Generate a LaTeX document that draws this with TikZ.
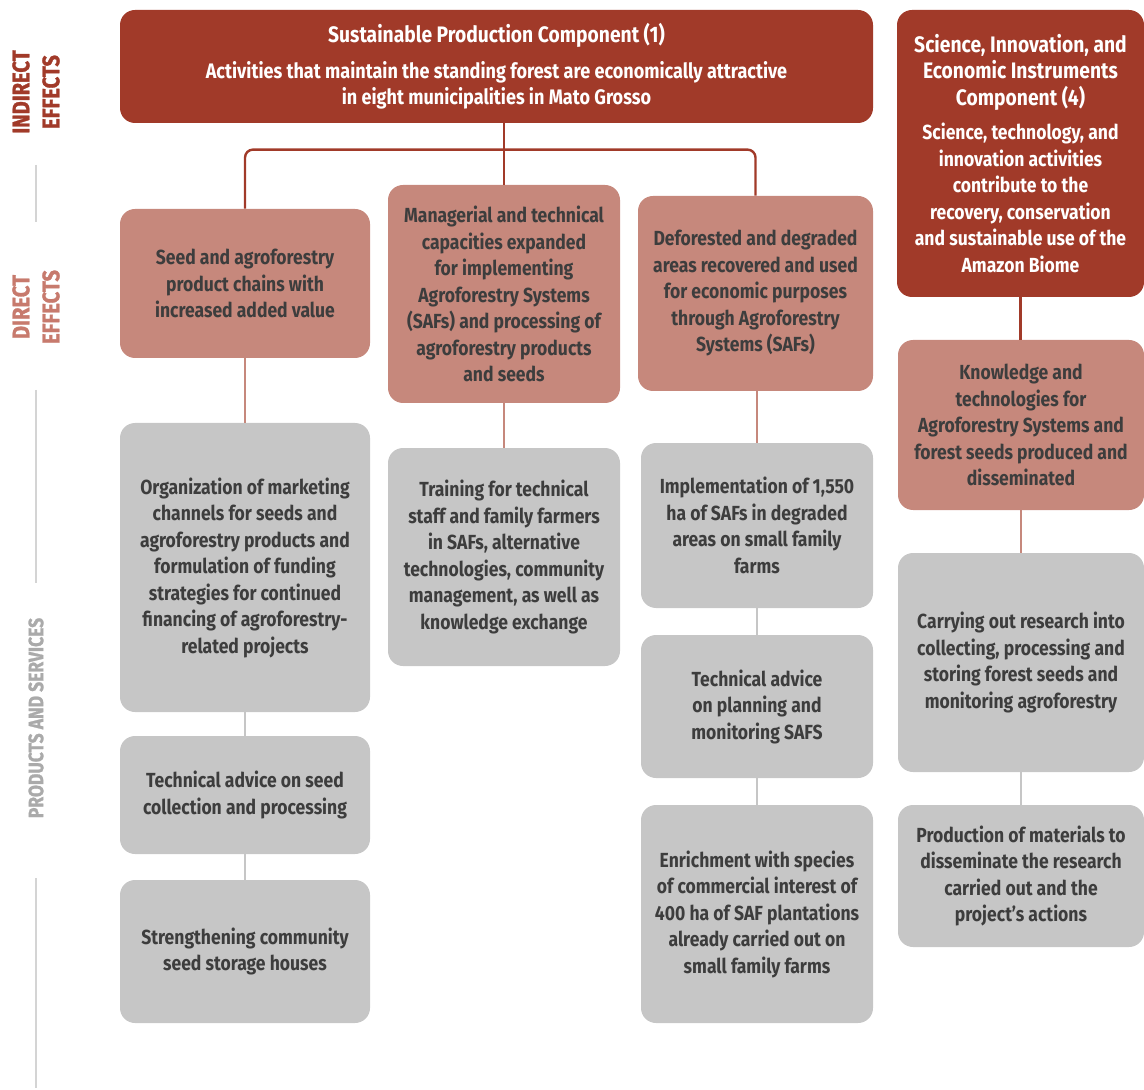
\documentclass[tikz,border=0pt]{standalone}
\usepackage{fontspec}
\setmainfont{Fira Sans}[FakeStretch=0.86]
\newfontfamily\lblfont{Fira Sans}[FakeStretch=0.84, BoldFeatures={FakeBold=1.2}]
\usetikzlibrary{positioning}
\definecolor{darkred}{HTML}{A13A29}
\definecolor{rosy}{HTML}{C6887C}
\definecolor{boxgray}{HTML}{C6C6C6}
\definecolor{txtgray}{HTML}{3D3D3D}
\definecolor{lblgray}{HTML}{AAAAAA}
\definecolor{lblrosy}{HTML}{C77A6D}
\definecolor{sepgray}{HTML}{D4D4D4}
\tikzset{
    comp/.style = {rectangle, rounded corners=7.5pt, fill=darkred, text=white, align=center, inner sep=0pt, font=\bfseries\fontsize{10.2}{13.25}\selectfont},
    direct/.style = {rectangle, rounded corners=7.5pt, fill=rosy, text=txtgray, align=center, inner sep=0pt, font=\bfseries\fontsize{10.2}{13.25}\selectfont},
    prod/.style = {rectangle, rounded corners=7.5pt, fill=boxgray, text=txtgray, align=center, inner sep=0pt, font=\bfseries\fontsize{10.2}{13.25}\selectfont},
    lbl/.style = {rotate=90, align=center, inner sep=0pt, font=\lblfont\bfseries\fontsize{12}{15}\selectfont},
    linkd/.style = {line width=1.2pt, draw=darkred},
    linkr/.style = {line width=1.2pt, draw=rosy},
    linkg/.style = {line width=1.2pt, draw=boxgray},
    sepline/.style = {line width=1.2pt, draw=sepgray},
}
\newcommand{\comptitle}[1]{{\fontsize{11.2}{13.25}\selectfont #1}}

\begin{document}
\begin{tikzpicture}[x=0.5pt, y=-0.5pt]
\useasboundingbox (0,0) rectangle (1144,1090);
%
% row labels
\node[lbl, text=darkred] at (36,92) (lind) {INDIRECT\\EFFECTS};
\node[lbl, text=lblrosy] at (36,307) (ldir) {DIRECT\\EFFECTS};
\node[lbl, text=lblgray, font=\lblfont\bfseries\fontsize{10.4}{15}\selectfont] at (36,718) (lprod) {PRODUCTS AND SERVICES};
\draw[sepline] (36,165) -- (36,222);
\draw[sepline] (36,390) -- (36,583);
\draw[sepline] (36,878) -- (36,1088);
%
% components
\node[comp, minimum width=376.5pt, minimum height=56.5pt] at (496.5,66.5) (c1)
    {\comptitle{Sustainable Production Component (1)}\\[4.5pt]
     {\fontsize{10.5}{13.25}\selectfont Activities that maintain the standing forest are economically attractive}\\
     {\fontsize{10.5}{13.25}\selectfont in eight municipalities in Mato Grosso}};
\node[comp, minimum width=123.5pt, minimum height=143.5pt] at (1020.5,153.5) (c4)
    {\comptitle{Science, Innovation, and}\\ \comptitle{Economic Instruments}\\ \comptitle{Component (4)}\\[4pt]
     Science, technology, and\\ innovation activities\\ contribute to the\\
     recovery, conservation\\ and sustainable use of the\\ Amazon Biome};
%
% direct effects
\node[direct, minimum width=125pt, minimum height=74.5pt] at (245,283.5) (d1)
    {Seed and agroforestry\\ product chains with\\ increased added value};
\node[direct, minimum width=116pt, minimum height=109pt] at (504,294) (d2)
    {Managerial and technical\\ capacities expanded\\ for implementing\\ Agroforestry Systems\\
     (SAFs) and processing of\\ agroforestry products\\ and seeds};
\node[direct, minimum width=117.5pt, minimum height=97.5pt] at (755.5,293.5) (d3)
    {Deforested and degraded\\ areas recovered and used\\ for economic purposes\\
     through Agroforestry\\ Systems (SAFs)};
\node[direct, minimum width=123pt, minimum height=85pt] at (1021,425) (d4)
    {Knowledge and\\ technologies for\\ Agroforestry Systems and\\ forest seeds produced and\\ disseminated};
%
% products and services
\node[prod, minimum width=125pt, minimum height=144.5pt] at (245,567.5) (p1a)
    {Organization of marketing\\ channels for seeds and\\ agroforestry products and\\
     formulation of funding\\ strategies for continued\\ financing of agroforestry-\\ related projects};
\node[prod, minimum width=125pt, minimum height=59pt] at (245,795) (p1b)
    {Technical advice on seed\\ collection and processing};
\node[prod, minimum width=125pt, minimum height=71.5pt] at (245,951.5) (p1c)
    {Strengthening community\\ seed storage houses};
\node[prod, minimum width=116pt, minimum height=109pt] at (504,557) (p2)
    {Training for technical\\ staff and family farmers\\ in SAFs, alternative\\
     technologies, community\\ management, as well as\\ knowledge exchange};
\node[prod, minimum width=116pt, minimum height=82.5pt] at (757,525.5) (p3a)
    {Implementation of 1,550\\ ha of SAFs in degraded\\ areas on small family\\ farms};
\node[prod, minimum width=116pt, minimum height=71.5pt] at (757,706.5) (p3b)
    {Technical advice\\ on planning and\\ monitoring SAFS};
\node[prod, minimum width=116pt, minimum height=109pt] at (757,914) (p3c)
    {Enrichment with species\\ of commercial interest of\\ 400 ha of SAF plantations\\
     already carried out on\\ small family farms};
\node[prod, minimum width=123pt, minimum height=109.5pt] at (1021,662.5) (p4a)
    {Carrying out research into\\ collecting, processing and\\ storing forest seeds and\\ monitoring agroforestry};
\node[prod, minimum width=123pt, minimum height=71pt] at (1021,876) (p4b)
    {Production of materials to\\ disseminate the research\\ carried out and the\\ project’s actions};
%
% connectors
\path (d2.north) ++(0,-35) coordinate (bar);
\draw[linkd] (d2.north) -- (d2.north |- c1.south);
\draw[linkd, rounded corners=4pt] (d1.north) |- (bar) -| (d3.north);
\draw[linkd] (c4.south) -- (c4.south |- d4.north);
\draw[linkr] (d1.south) -- (p1a.north);
\draw[linkr] (d2.south) -- (p2.north);
\draw[linkr] (p3a.north |- d3.south) -- (p3a.north);
\draw[linkr] (d4.south) -- (p4a.north);
\draw[linkg] (p1a) -- (p1b);
\draw[linkg] (p1b) -- (p1c);
\draw[linkg] (p3a) -- (p3b);
\draw[linkg] (p3b) -- (p3c);
\draw[linkg] (p4a) -- (p4b);

\end{tikzpicture}
\end{document}
